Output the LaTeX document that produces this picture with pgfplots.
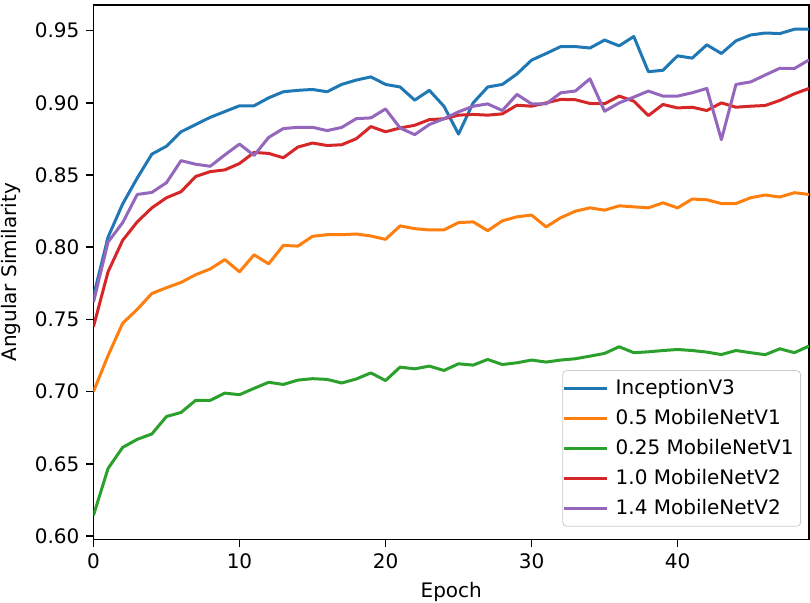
\documentclass[border=0pt]{standalone}
\usepackage{fontspec}
\setmainfont{DejaVu Sans}
\usepackage{pgfplots}
\pgfplotsset{compat=1.18}
\usepackage{pgfplotstable}
\usetikzlibrary{calc}

\definecolor{tabblue}{HTML}{1F77B4}
\definecolor{taborange}{HTML}{FF7F0E}
\definecolor{tabgreen}{HTML}{2CA02C}
\definecolor{tabred}{HTML}{D62728}
\definecolor{tabpurple}{HTML}{9467BD}

% epoch, InceptionV3, 0.5 MobileNetV1, 0.25 MobileNetV1, 1.0 MobileNetV2, 1.4 MobileNetV2
\pgfplotstableread{
ep  inc     mbA     mbB     mvA     mvB
0   0.766   0.700   0.6143  0.745   0.762
1   0.807   0.725   0.6468  0.783   0.8036
2   0.830   0.7474  0.6614  0.8048  0.817
3   0.848   0.757   0.667   0.8176  0.8366
4   0.8645  0.768   0.6707  0.8273  0.838
5   0.870   0.772   0.6828  0.8343  0.8447
6   0.880   0.7757  0.6856  0.8385  0.860
7   0.885   0.781   0.694   0.849   0.8575
8   0.890   0.785   0.694   0.8524  0.8561
9   0.894   0.7915  0.699   0.8536  0.864
10  0.898   0.783   0.6979  0.858   0.8715
11  0.898   0.7948  0.7023  0.8657  0.8636
12  0.9035  0.7885  0.7065  0.865   0.8761
13  0.9077  0.8013  0.705   0.862   0.8822
14  0.9087  0.8008  0.708   0.8694  0.8831
15  0.9093  0.8076  0.709   0.8722  0.8831
16  0.9077  0.8087  0.7085  0.8705  0.8808
17  0.9128  0.8087  0.706   0.871   0.883
18  0.9158  0.8092  0.7088  0.8752  0.8891
19  0.918   0.8078  0.713   0.8836  0.8896
20  0.9128  0.8055  0.7077  0.880   0.8958
21  0.911   0.8148  0.717   0.8826  0.8826
22  0.9019  0.8129  0.7158  0.8845  0.878
23  0.9087  0.812   0.7177  0.8884  0.885
24  0.8977  0.812   0.7147  0.889   0.889
25  0.8784  0.8171  0.7193  0.8915  0.8938
26  0.900   0.8176  0.7184  0.892   0.8977
27  0.911   0.8115  0.7223  0.8915  0.8993
28  0.9128  0.8183  0.7188  0.8924  0.8947
29  0.920   0.8211  0.720   0.8984  0.9059
30  0.9296  0.8223  0.7219  0.8977  0.8993
31  0.9342  0.8141  0.7205  0.900   0.8993
32  0.939   0.8205  0.7219  0.9024  0.907
33  0.939   0.825   0.7228  0.9022  0.9082
34  0.938   0.8273  0.7246  0.8996  0.9167
35  0.9435  0.8257  0.7265  0.8994  0.8942
36  0.9395  0.8287  0.7311  0.9047  0.900
37  0.946   0.828   0.727   0.9012  0.904
38  0.9216  0.8273  0.7276  0.8912  0.9082
39  0.9226  0.8308  0.7285  0.8989  0.9047
40  0.9326  0.8273  0.7292  0.8965  0.9047
41  0.931   0.8334  0.7285  0.897   0.907
42  0.9402  0.8329  0.7274  0.8947  0.910
43  0.9342  0.8303  0.7257  0.900   0.8745
44  0.943   0.8303  0.7285  0.897   0.9128
45  0.947   0.8343  0.727   0.8977  0.9145
46  0.9484  0.8362  0.7256  0.8982  0.9193
47  0.948   0.8348  0.7297  0.9017  0.924
48  0.951   0.8378  0.727   0.9063  0.9238
49  0.951   0.8366  0.7316  0.910   0.9298
}\simdata

\begin{document}
\begin{tikzpicture}
\begin{axis}[
  scale only axis,
  width=358pt, height=267.5pt,
  xmin=0, xmax=49,
  ymin=0.5975, ymax=0.9678,
  xtick={0,10,20,30,40},
  ytick={0.60,0.65,0.70,0.75,0.80,0.85,0.90,0.95},
  yticklabel style={/pgf/number format/.cd, fixed, fixed zerofill, precision=2},
  /pgf/number format/assume math mode=true,
  tick align=outside,
  major tick length=3.5pt,
  tick style={black, line width=0.8pt},
  axis line style={black, line width=0.8pt},
  tick label style={font=\fontsize{10}{12}\selectfont},
  label style={font=\fontsize{10}{12}\selectfont},
  xlabel={Epoch},
  ylabel={Angular Similarity},
  xtick pos=bottom, ytick pos=left,
  every axis plot/.append style={line width=1.5pt, line join=round},
  legend cell align=left,
  legend image code/.code={\draw[#1] (0pt,0pt) -- (21.5pt,0pt);},
  legend style={
    at={(1,0)}, anchor=south east, xshift=-4pt, yshift=6.5pt,
    draw=black!20, rounded corners=2pt, fill=white, fill opacity=0.8,
    text opacity=1, font=\fontsize{10}{12}\selectfont,
    inner xsep=0pt, inner ysep=1.2pt,
    nodes={inner xsep=3.5pt, inner ysep=3pt},
  },
]
\addplot[tabblue]   table[x=ep, y=inc] {\simdata};
\addlegendentry{InceptionV3}
\addplot[taborange] table[x=ep, y=mbA] {\simdata};
\addlegendentry{0.5 MobileNetV1}
\addplot[tabgreen]  table[x=ep, y=mbB] {\simdata};
\addlegendentry{0.25 MobileNetV1}
\addplot[tabred]    table[x=ep, y=mvA] {\simdata};
\addlegendentry{1.0 MobileNetV2}
\addplot[tabpurple] table[x=ep, y=mvB] {\simdata};
\addlegendentry{1.4 MobileNetV2}
\end{axis}
\pgfresetboundingbox
\path[use as bounding box]
  ($(current axis.south west)+(-46.75pt,-31.5pt)$) rectangle
  ($(current axis.north east)+(0.5pt,2.5pt)$);
\end{tikzpicture}
\end{document}
